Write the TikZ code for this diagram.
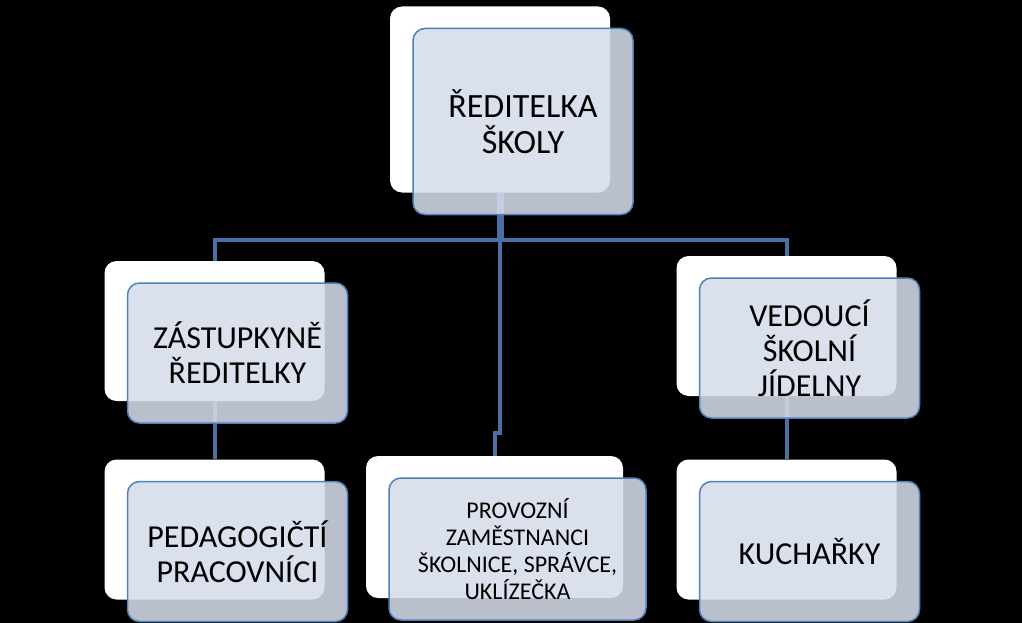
\documentclass[tikz,border=0pt]{standalone}
\usepackage{fontspec}
\setmainfont{Carlito}
\usetikzlibrary{positioning,calc}
\definecolor{boxfill}{RGB}{213,221,234}
\definecolor{boxline}{RGB}{79,129,189}
\definecolor{linkblue}{RGB}{74,112,163}
\begin{document}
\begin{tikzpicture}[x=1pt,y=-1pt,
bb/.style={fill=white,rounded corners=12pt,minimum width=220pt,minimum height=140pt,inner sep=0pt},
fb/.style={draw=boxline,line width=1.5pt,fill=boxfill,fill opacity=.87,text opacity=1,rounded corners=12pt,minimum width=220pt,minimum height=140pt,inner sep=0pt,align=center,font=\fontsize{32}{35}\selectfont},
ln/.style={draw=linkblue,line width=4pt}]
\useasboundingbox (0,0) rectangle (1022,623);\fill[black] (0,0) rectangle (1022,623);
\node[bb,minimum height=186pt] (topb) at (500,99.5) {};
\node[bb] (zastb) at (214.5,331) {};\node[bb] (vedb) at (786.5,326) {};
\node[bb] (pedb) at (214.5,529.5) {};\node[bb,minimum width=257pt,minimum height=142pt] (provb) at (494.5,527) {};
\node[bb] (kuchb) at (786.5,529.5) {};
\coordinate (bus) at (500,240);
\draw[ln,line width=7pt] (topb.south) -- (bus);
\draw[ln] (bus) -| (zastb.north);\draw[ln] (bus) -| (vedb.north);
\draw[ln] (bus) -- ++(0,193) -| (provb.north);
\draw[ln] (zastb.south) -- (pedb.north);\draw[ln] (vedb.south) -- (kuchb.north);
\node[fb,minimum height=186pt,font=\fontsize{34}{36}\selectfont] (top) at ($(topb)+(23,22)$) {ŘEDITELKA\\ŠKOLY};
\node[fb] (zast) at ($(zastb)+(23,22)$) {ZÁSTUPKYNĚ\\ŘEDITELKY};
\node[fb] (ved) at ($(vedb)+(23,22)$) {VEDOUCÍ\\ŠKOLNÍ\\JÍDELNY};
\node[fb] (ped) at ($(pedb)+(23,22)$) {PEDAGOGIČTÍ\\PRACOVNÍCI};
\node[fb,minimum width=257pt,minimum height=142pt,font=\fontsize{24}{27}\selectfont] (prov) at ($(provb)+(23,22)$) {PROVOZNÍ\\ZAMĚSTNANCI\\ŠKOLNICE, SPRÁVCE,\\UKLÍZEČKA};
\node[fb] (kuch) at ($(kuchb)+(23,22)$) {KUCHAŘKY};
\end{tikzpicture}
\end{document}
